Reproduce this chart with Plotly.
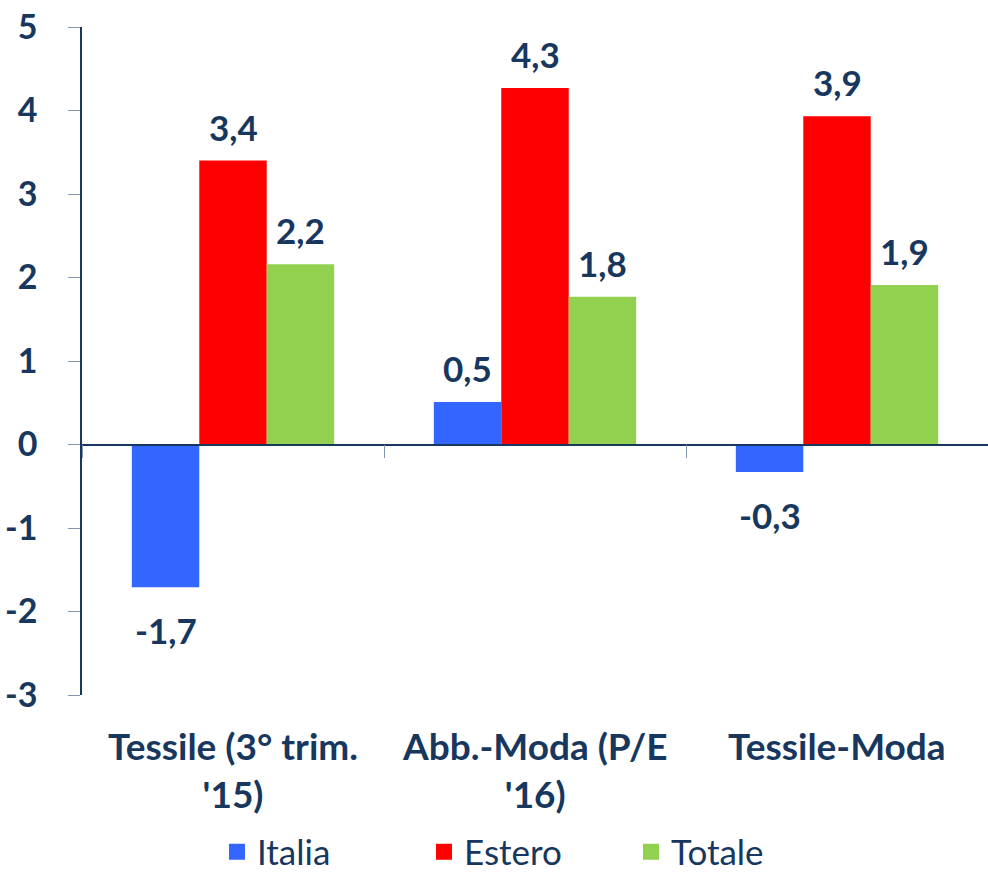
import plotly.graph_objects as go

categorie = ["Tessile (3° trim.<br>'15)", "Abb.-Moda (P/E<br>'16)", "Tessile-Moda"]
serie = ["Italia", "Estero", "Totale"]
italia = [-1.71, 0.51, -0.33]
estero = [3.40, 4.27, 3.93]
totale = [2.16, 1.77, 1.91]
colori = ["#3366FF", "#FF0000", "#92D050"]
y_ticks = [-3, -2, -1, 0, 1, 2, 3, 4, 5]

NAVY = "#17375E"
FONT = "Lato"
cat_ids = ["c0", "c1", "c2"]

fig = go.Figure()
valori = [italia, estero, totale]
for nome, vals, col in zip(serie, valori, colori):
    fig.add_trace(go.Bar(x=cat_ids, y=vals, name=nome, marker_color=col,
                         marker_line_width=0, showlegend=False))
    # legenda con quadratini
    fig.add_trace(go.Scatter(x=[None], y=[None], mode="markers", name=nome,
                             marker=dict(symbol="square", size=21, color=col)))

# etichette dei valori
offs = [-67.5, 0, 67.5]
for vals, dx in zip(valori, offs):
    for c, v in zip(cat_ids, vals):
        fig.add_annotation(x=c, y=v, xshift=dx, yshift=34 if v >= 0 else -43,
                           text=f"{v:.1f}".replace(".", ","), showarrow=False,
                           yanchor="middle",
                           font=dict(family=FONT, size=35, color=NAVY, weight="bold"))

# etichette categorie
for c, t in zip(cat_ids, categorie):
    fig.add_annotation(x=c, y=-0.039, yref="paper", text=t, showarrow=False,
                       yanchor="top", align="center",
                       font=dict(family=FONT, size=37, color=NAVY, weight="bold"))

fig.update_layout(
    width=988, height=872,
    margin=dict(l=82, r=0, t=27, b=177),
    paper_bgcolor="white", plot_bgcolor="white",
    barmode="group", bargap=0.33, bargroupgap=0,
    font=dict(family=FONT, color=NAVY),
    legend=dict(orientation="h", x=0.149, y=1 - 852 / 872, xanchor="left", yanchor="middle",
                yref="container", entrywidth=162,
                font=dict(size=35, color=NAVY, family=FONT)),
    xaxis=dict(showticklabels=False, showgrid=False, zeroline=False,
               anchor="free", position=0.375, showline=True, linecolor=NAVY,
               linewidth=1.5, ticks="outside", tickson="boundaries", ticklen=13,
               tickcolor="#8497B0", range=[-0.5, 2.5], automargin=False),
    yaxis=dict(range=[-3, 5], tickvals=y_ticks, ticktext=[str(t) for t in y_ticks],
               showgrid=False, zeroline=False, automargin=False,
               ticklabeloverflow="allow",
               showline=True, linecolor=NAVY, linewidth=1.5, ticks="outside",
               ticklen=12, tickcolor="#8497B0", ticklabelstandoff=24,
               tickfont=dict(family=FONT, size=34, color=NAVY, weight="bold")),
)

# tolgo il margine di default del body e la modebar
fig.write_html("out.html", config={"displayModeBar": False},
               post_script="document.body.style.margin='0';")
